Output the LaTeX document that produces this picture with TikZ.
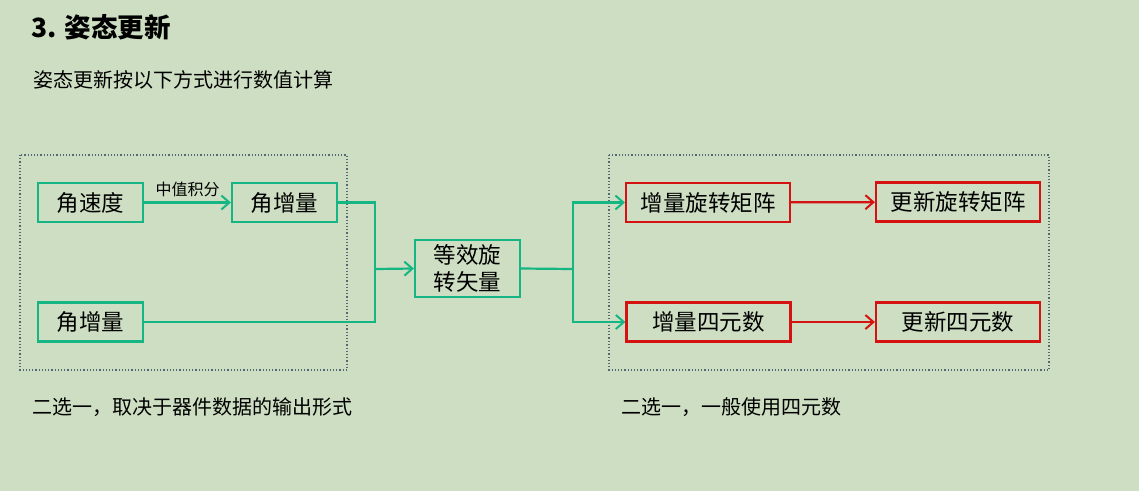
\documentclass[tikz,border=0pt]{standalone}
\usepackage{fontspec}
\setmainfont{Noto Sans CJK SC}
\usepackage{tikz}
\usetikzlibrary{arrows.meta, positioning, calc}
\definecolor{bgcol}{RGB}{206,222,194}
\definecolor{mint}{RGB}{22,182,132}
\definecolor{crim}{RGB}{212,18,18}
\definecolor{slate}{RGB}{84,104,116}
\tikzset{
  blk/.style   ={rectangle, line width=2.2pt, fill=none, align=center,
                 font=\fontsize{22.5}{27}\selectfont, minimum height=39pt, inner sep=2pt},
  blkg/.style  ={blk, draw=mint, minimum width=105pt},
  blkr/.style  ={blk, draw=crim, minimum width=164pt},
  grp/.style   ={draw=slate, line width=1.2pt, dotted},
  ln/.style    ={draw=mint, line width=2.2pt},
  ar/.style    ={ln, -{Straight Barb[length=8pt, width=14pt, line width=2pt]}},
  arr/.style   ={draw=crim, line width=2.2pt, -{Straight Barb[length=8pt, width=14pt, line width=2pt]}},
  txt/.style   ={anchor=west, inner sep=0pt},
}
\begin{document}
\begin{tikzpicture}[x=1pt, y=-1pt]
\fill[bgcol] (0,0) rectangle (1139,491);
\useasboundingbox (0,0) rectangle (1139,491);
% headings
\node[txt, font=\fontsize{26.5}{31}\selectfont\bfseries] (title) at (31,27) {3. 姿态更新};
\node[txt, font=\fontsize{20}{24}\selectfont] (sub) at (33,80) {姿态更新按以下方式进行数值计算};
% group frames
\draw[grp] (20,155) rectangle (347,370);
\draw[grp] (609,155) rectangle (1049,370);
% left part
\node[blkg] (omega) at (90.5,202.5) {角速度};
\node[blkg] (dth) at (284.5,202.5) {角增量};
\node[blkg] (dth2) at (90.5,322) {角增量};
\node[blkg, minimum height=57pt, inner sep=1pt] (rv) at (467.5,268.5) {等效旋\\转矢量};
\draw[ar] (omega) -- node[above=1pt, font=\fontsize{16}{19}\selectfont] (mid) {中值积分} (dth);
\coordinate (jl) at (375,269);
\draw[ln] (dth.east) -| (jl);
\draw[ln] (dth2.east) -| (jl);
\draw[ar] (jl) -- (rv.west);
% right part
\node[blkr] (drm) at (708,202.5) {增量旋转矩阵};
\node[blkr] (rm) at (958,202) {更新旋转矩阵};
\node[blkr] (dq) at (708.5,322) {增量四元数};
\node[blkr] (q) at (958,322) {更新四元数};
\coordinate (jr) at (573,269);
\draw[ln] (rv.east) -- (jr);
\draw[ar] (jr) |- (drm.west);
\draw[ar] (jr) |- (dq.west);
\draw[arr] (drm) -- (rm);
\draw[arr] (dq) -- (q);
% notes
\node[txt, font=\fontsize{20}{24}\selectfont] (noteL) at (32,407) {二选一，取决于器件数据的输出形式};
\node[txt, font=\fontsize{20}{24}\selectfont] (noteR) at (621,407) {二选一，一般使用四元数};
\end{tikzpicture}
\end{document}
